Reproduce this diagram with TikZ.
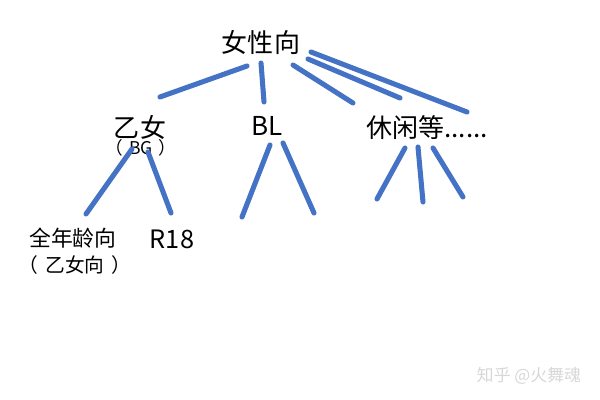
\documentclass[tikz,border=0pt]{standalone}
\usepackage{fontspec}
\setmainfont{Noto Sans CJK SC}
\definecolor{branchblue}{RGB}{68,114,196}
\definecolor{markgray}{RGB}{215,215,215}

\begin{document}
\begin{tikzpicture}[x=0.025cm, y=-0.025cm,
		branch/.style={line width=3.6pt, branchblue, line cap=round},
		label/.style={inner sep=0pt, font=\fontsize{18.5}{20}\selectfont}]
		\useasboundingbox (0,0) rectangle (600,400);

		% titles
		\node[label] (top) at (261,42) {女性向};
		\node[label] (otome) at (140,127) {乙女};
		\node[inner sep=0pt, font=\fontsize{12.5}{14}\selectfont] (bg) at (141,148) {（\hspace{4pt}BG\hspace{4pt}）};
		\node[label] (bl) at (267,126) {BL};
		\node[label] (misc) at (427,128) {休闲等......};
		\node[inner sep=0pt, font=\fontsize{15.5}{17}\selectfont] (allage) at (73,238) {全年龄向};
		\node[inner sep=0pt, font=\fontsize{14}{16}\selectfont] (otomeside) at (75,265) {（\hspace{5pt}乙女向\hspace{5pt}）};
		\node[inner sep=0pt, font=\fontsize{18}{20}\selectfont] (rage) at (172,239) {R18};

		% line ends
		\coordinate (a1) at (247,66);  \coordinate (a2) at (160,97);
		\coordinate (b1) at (261,63);  \coordinate (b2) at (264,102);
		\coordinate (c1) at (293,65);  \coordinate (c2) at (353,103);
		\coordinate (d1) at (308,59);  \coordinate (d2) at (400,98);
		\coordinate (e1) at (311,52);  \coordinate (e2) at (467,112);
		\coordinate (f1) at (132,149); \coordinate (f2) at (86,214);
		\coordinate (g1) at (148,152); \coordinate (g2) at (171,213);
		\coordinate (h1) at (270,145); \coordinate (h2) at (242,217);
		\coordinate (i1) at (283,143); \coordinate (i2) at (314,213);
		\coordinate (j1) at (405,148); \coordinate (j2) at (377,199);
		\coordinate (k1) at (418,147); \coordinate (k2) at (423,202);
		\coordinate (l1) at (433,148); \coordinate (l2) at (463,197);

		\foreach \s in {a,b,c,d,e,f,g,h,i,j,k,l}
			\draw[branch] (\s1) -- (\s2);

		\node[inner sep=0pt, markgray, font=\fontsize{12}{14}\selectfont] (mark) at (529,376) {知乎 @火舞魂};

	\end{tikzpicture}
\end{document}
